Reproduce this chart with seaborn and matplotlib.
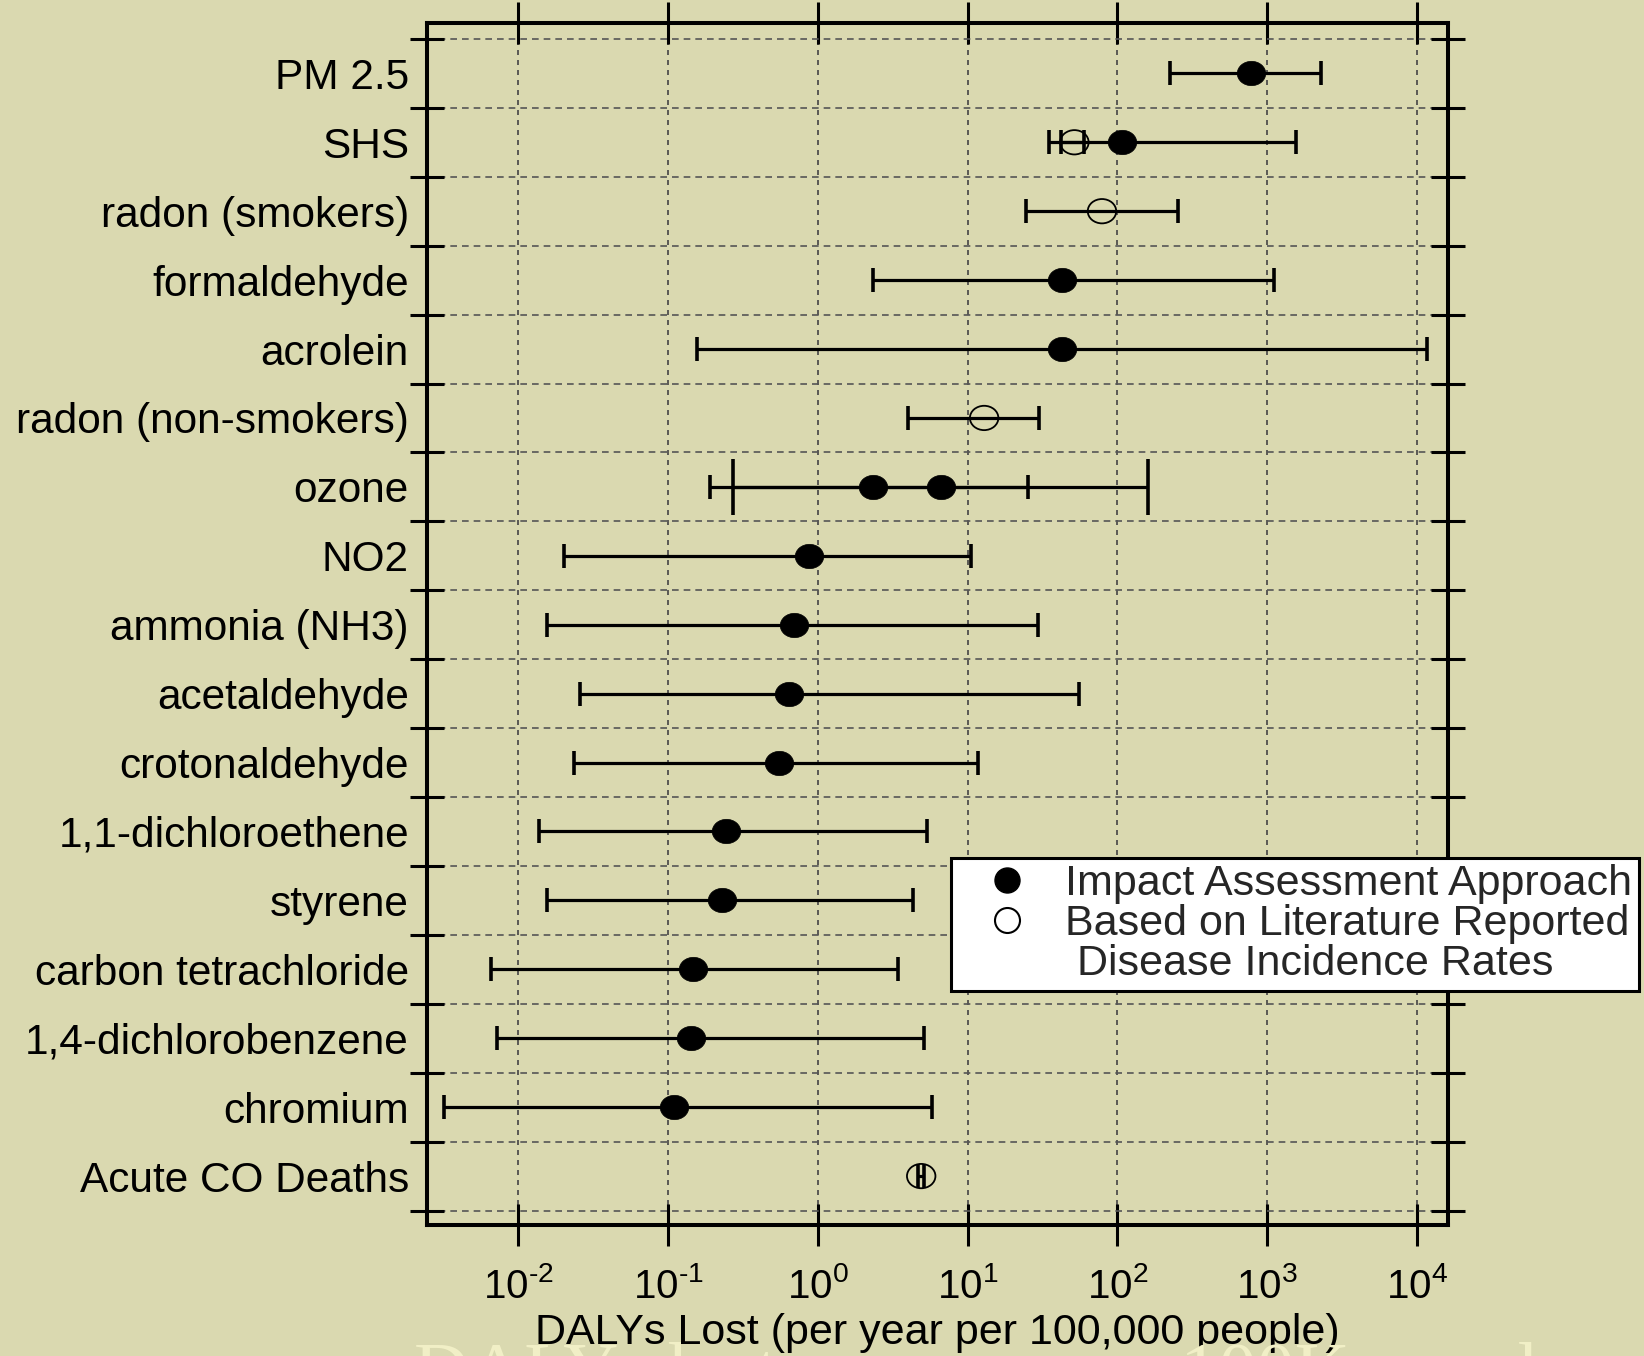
import numpy as np
import pandas as pd
import matplotlib
matplotlib.use('Agg')
import matplotlib.pyplot as plt
import seaborn as sns
from matplotlib.path import Path
from matplotlib.transforms import Affine2D
from matplotlib.lines import Line2D
from matplotlib.ticker import LogLocator, FuncFormatter, NullLocator

# agents, top to bottom
agents = ['PM 2.5', 'SHS', 'radon (smokers)', 'formaldehyde', 'acrolein',
          'radon (non-smokers)', 'ozone', 'NO2', 'ammonia (NH3)', 'acetaldehyde',
          'crotonaldehyde', '1,1-dichloroethene', 'styrene', 'carbon tetrachloride',
          '1,4-dichlorobenzene', 'chromium', 'Acute CO Deaths']

# impact assessment approach (filled)
ia_agent = ['PM 2.5', 'SHS', 'formaldehyde', 'acrolein', 'ozone', 'ozone', 'NO2',
            'ammonia (NH3)', 'acetaldehyde', 'crotonaldehyde', '1,1-dichloroethene',
            'styrene', 'carbon tetrachloride', '1,4-dichlorobenzene', 'chromium']
ia_val = [780, 108, 42.7, 42.7, 2.33, 6.65, 0.87, 0.69, 0.64, 0.55, 0.244,
          0.229, 0.146, 0.143, 0.109]
ia_lo = [225, 35, 2.34, 0.155, 0.19, 0.27, 0.0203, 0.0155, 0.0259, 0.0235, 0.0138,
         0.0155, 0.0066, 0.0072, 0.0032]
ia_hi = [2280, 1560, 1110, 11700, 25.4, 161, 10.6, 29.4, 55.2, 11.7, 5.32,
         4.32, 3.44, 5.15, 5.77]

# based on literature reported disease incidence rates (open)
lit_agent = ['SHS', 'radon (smokers)', 'radon (non-smokers)', 'Acute CO Deaths']
lit_val = [51.7, 79, 12.9, 4.9]
lit_lo = [42.3, 24.7, 3.98, 4.70]
lit_hi = [60.3, 255, 29.9, 5.15]

ia = pd.DataFrame({'agent': ia_agent, 'val': ia_val, 'lo': ia_lo, 'hi': ia_hi})
lit = pd.DataFrame({'agent': lit_agent, 'val': lit_val, 'lo': lit_lo, 'hi': lit_hi})
ia['row'] = [agents.index(a) for a in ia['agent']]
lit['row'] = [agents.index(a) for a in lit['agent']]

bg = '#DAD9B0'
sns.set_theme(style='ticks')
plt.rcParams['font.family'] = ['Liberation Sans', 'DejaVu Sans']
plt.rcParams['axes.unicode_minus'] = False
plt.rcParams['mathtext.fontset'] = 'custom'
plt.rcParams['mathtext.rm'] = 'Liberation Sans'

fig = plt.figure(figsize=(16.44, 13.56), dpi=100, facecolor=bg)
ax = fig.add_axes([0.2597, 0.0966, 0.6211, 0.8864], facecolor=bg)

# slightly wide ellipse marker
ell = Path.unit_circle().transformed(Affine2D().scale(1.17, 1.0))

# error bars
oz_max = ia.loc[ia.agent == 'ozone', 'val'].max()
for i, r in ia.iterrows():
    cs = 8.3
    if r['agent'] == 'ozone' and r['val'] == oz_max:
        cs = 20
    ax.errorbar(r['val'], r['row'], xerr=[[r['val'] - r['lo']], [r['hi'] - r['val']]],
                fmt='none', ecolor='black', elinewidth=2.3, capsize=cs, capthick=2.6, zorder=3)
for i, r in lit.iterrows():
    ax.errorbar(r['val'], r['row'], xerr=[[r['val'] - r['lo']], [r['hi'] - r['val']]],
                fmt='none', ecolor='black', elinewidth=2.3, capsize=8.3, capthick=2.6, zorder=3)

sns.scatterplot(data=ia, x='val', y='row', marker=ell, s=20.5 ** 2, color='black',
                edgecolor='black', linewidth=0.5, ax=ax, zorder=4, legend=False)
sns.scatterplot(data=lit, x='val', y='row', marker=ell, s=20.5 ** 2, facecolor='none',
                edgecolor='black', linewidth=1.3, ax=ax, zorder=4, legend=False)

ax.set_xscale('log')
ax.set_xlim(10 ** -2.611, 10 ** 4.209)
ax.set_ylim(16.71, -0.73)


def dec_label(v, pos):
    e = int(round(np.log10(v)))
    if e < 0:
        return r'$\mathdefault{10^{\text{-}%d}}$' % (-e)
    return r'$\mathdefault{10^{%d}}$' % e


ax.xaxis.set_major_locator(LogLocator(base=10, numticks=20))
ax.xaxis.set_major_formatter(FuncFormatter(dec_label))
ax.xaxis.set_minor_locator(NullLocator())
ax.set_yticks(np.arange(-0.5, len(agents), 1.0))
ax.set_yticklabels([])
ax.set_yticks(np.arange(len(agents)), labels=agents, minor=True)

ax.tick_params(axis='x', which='major', direction='inout', length=30, width=2.2,
               top=True, bottom=True, labelsize=29, pad=15, colors='black')
ax.tick_params(axis='y', which='major', direction='inout', length=25, width=2.2,
               left=True, right=True, colors='black')
ax.tick_params(axis='y', which='minor', length=0, pad=13, labelsize=30.5, labelcolor='black')

ax.xaxis.grid(True, which='major', color='#444444', linestyle=(0, (3, 3)), linewidth=1.2)
ax.yaxis.grid(True, which='major', color='#555555', linestyle=(0, (4, 3)), linewidth=1.2)
ax.set_axisbelow(True)

for s in ax.spines.values():
    s.set_visible(True)
    s.set_linewidth(2.9)
    s.set_color('black')

ax.set_xlabel('DALYs Lost (per year per 100,000 people)', fontsize=31, labelpad=5, color='black')
ax.set_ylabel('')

# legend
h1 = Line2D([], [], marker='o', linestyle='none', markersize=18, color='black')
h2 = Line2D([], [], marker='o', linestyle='none', markersize=18, markerfacecolor='white',
            markeredgecolor='black', markeredgewidth=1.5)
h3 = Line2D([], [], linestyle='none')
leg = fig.legend([h1, h2, h3],
                 ['Impact Assessment Approach', 'Based on Literature Reported',
                  ' Disease Incidence Rates'],
                 loc='upper left', bbox_to_anchor=(951 / 1644, 1 - 858 / 1356),
                 bbox_transform=fig.transFigure, fontsize=31, frameon=True,
                 fancybox=False, edgecolor='black', facecolor='white', framealpha=1,
                 borderpad=0.15, labelspacing=0.0, handletextpad=0.2, handlelength=2.3,
                 borderaxespad=0)
leg.get_frame().set_linewidth(2.2)

# faint slide title cut off at the bottom
fig.text(414 / 1644, -0.029, 'DALYs lost per year per 100K people', fontsize=55,
         family='Liberation Serif', color='#F1EFC6', ha='left', va='baseline', zorder=0)

fig.savefig('out.png', dpi=100, facecolor=bg)
